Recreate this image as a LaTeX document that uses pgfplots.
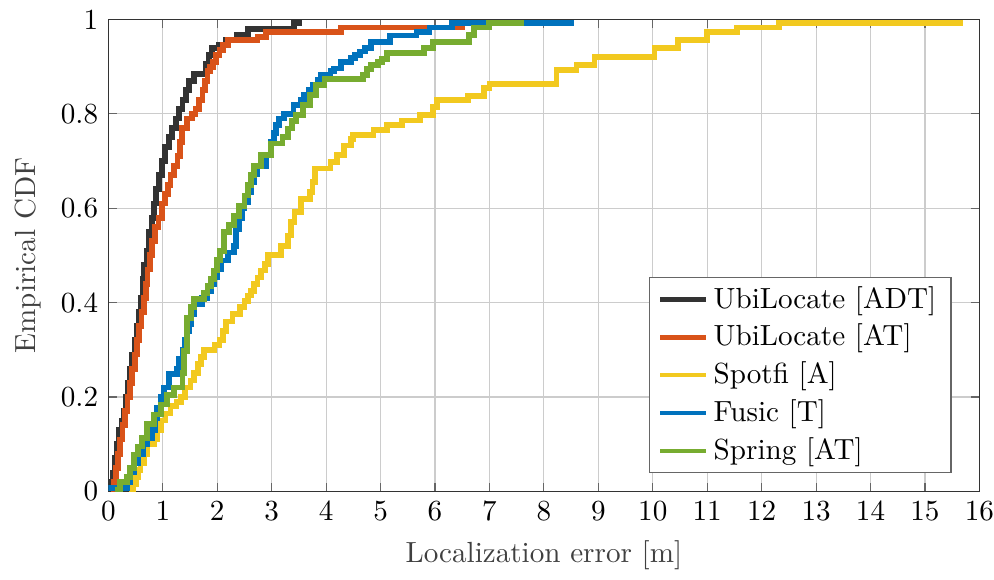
\documentclass[border=0pt]{standalone}
\usepackage{pgfplots}
\pgfplotsset{compat=1.18}
\definecolor{cblack}{rgb}{0.2,0.2,0.2}
\definecolor{corange}{rgb}{0.85,0.325,0.098}
\definecolor{cyellow}{RGB}{242,201,31}
\definecolor{cblue}{rgb}{0,0.447,0.741}
\definecolor{cgreen}{rgb}{0.466,0.674,0.188}
\begin{document}
\begin{tikzpicture}
\begin{axis}[
  scale only axis,
  width=299pt, height=162pt,
  xmin=0, xmax=16, ymin=0, ymax=1,
  xtick={0,1,...,16},
  ytick={0,0.2,0.4,0.6,0.8,1},
  yticklabels={0,0.2,0.4,0.6,0.8,1},
  xticklabel style={inner xsep=0pt},
  xmajorgrids, ymajorgrids,
  major grid style={line width=0.4pt, draw=black!20},
  tick align=inside,
  major tick length=3pt,
  tick style={black!60, line width=0.4pt},
  axis line style={black!80, line width=0.5pt},
  xlabel={Localization error [m]},
  ylabel={Empirical CDF},
  xlabel style={black!75},
  ylabel style={black!75},
  legend cell align=left,
  legend style={at={(0.968,0.038)}, anchor=south east, draw=black!60, line width=0.5pt, font=\normalsize, row sep=0pt, inner xsep=3pt, inner ysep=1pt},
  legend image code/.code={\draw[#1, line width=1.6pt] (0pt,0pt) -- (15.5pt,0pt);},
  every axis plot/.append style={const plot, line width=2pt},
]
\addplot[cblack] coordinates {
(0.00,0.00)(0.04,0.02)(0.08,0.04)(0.12,0.07)(0.16,0.10)(0.20,0.13)(0.24,0.15)(0.28,0.17)
(0.32,0.20)(0.36,0.23)(0.40,0.26)(0.44,0.29)(0.48,0.32)(0.52,0.35)(0.56,0.38)(0.60,0.41)
(0.63,0.45)(0.66,0.48)(0.70,0.51)(0.74,0.55)(0.80,0.58)(0.84,0.61)(0.88,0.64)(0.93,0.67)
(0.98,0.70)(1.04,0.73)(1.12,0.75)(1.17,0.77)(1.24,0.79)(1.30,0.81)(1.36,0.83)(1.42,0.85)
(1.48,0.87)(1.57,0.885)(1.80,0.905)(1.85,0.925)(1.90,0.94)(2.03,0.947)(2.16,0.956)
(2.37,0.967)(2.56,0.98)(3.41,0.992)(3.55,0.992)};
\addlegendentry{UbiLocate [ADT]}
\addplot[corange] coordinates {
(0.05,0.00)(0.10,0.02)(0.14,0.05)(0.18,0.08)(0.22,0.11)(0.26,0.14)(0.30,0.17)(0.35,0.20)
(0.40,0.23)(0.44,0.26)(0.49,0.29)(0.53,0.32)(0.57,0.35)(0.61,0.38)(0.65,0.41)(0.69,0.44)
(0.72,0.47)(0.76,0.50)(0.80,0.53)(0.85,0.56)(0.92,0.58)(0.99,0.61)(1.04,0.63)(1.09,0.65)
(1.14,0.67)(1.20,0.69)(1.27,0.71)(1.31,0.74)(1.35,0.77)(1.45,0.79)(1.53,0.80)(1.60,0.81)
(1.66,0.83)(1.73,0.85)(1.78,0.87)(1.82,0.89)(1.87,0.90)(1.92,0.91)(1.98,0.925)(2.04,0.935)
(2.10,0.946)(2.19,0.956)(2.74,0.963)(2.90,0.974)(4.28,0.983)(6.50,0.992)(7.26,0.992)};
\addlegendentry{UbiLocate [AT]}
\addplot[cyellow] coordinates {
(0.375,0.00)(0.45,0.015)(0.50,0.03)(0.55,0.045)(0.59,0.06)(0.65,0.08)(0.71,0.10)(0.84,0.11)
(0.90,0.13)(0.96,0.15)(1.05,0.165)(1.14,0.18)(1.25,0.19)(1.33,0.20)(1.40,0.22)(1.51,0.235)
(1.58,0.25)(1.64,0.27)(1.70,0.285)(1.76,0.30)(1.95,0.31)(2.04,0.32)(2.10,0.34)(2.16,0.36)
(2.28,0.376)(2.42,0.39)(2.50,0.404)(2.56,0.415)(2.62,0.425)(2.68,0.44)(2.74,0.453)(2.80,0.468)
(2.87,0.482)(2.93,0.50)(3.17,0.52)(3.30,0.542)(3.36,0.57)(3.42,0.592)(3.54,0.62)(3.70,0.634)
(3.75,0.655)(3.80,0.684)(4.08,0.698)(4.20,0.712)(4.33,0.733)(4.45,0.747)(4.50,0.755)(4.87,0.765)
(5.12,0.776)(5.40,0.786)(5.73,0.797)(5.96,0.815)(6.03,0.829)(6.60,0.838)(6.90,0.854)(7.00,0.864)
(8.23,0.893)(8.60,0.903)(8.93,0.921)(10.03,0.939)(10.47,0.956)(10.99,0.974)(11.55,0.983)
(12.32,0.992)(15.69,0.992)};
\addlegendentry{Spotfi [A]}
\addplot[cblue] coordinates {
(0.00,0.007)(0.34,0.02)(0.40,0.04)(0.47,0.06)(0.55,0.08)(0.64,0.10)(0.72,0.113)(0.80,0.13)
(0.86,0.155)(0.90,0.177)(0.96,0.20)(1.02,0.22)(1.11,0.248)(1.26,0.26)(1.30,0.28)(1.36,0.30)
(1.40,0.32)(1.44,0.34)(1.48,0.355)(1.52,0.375)(1.57,0.397)(1.72,0.41)(1.82,0.425)(1.88,0.44)
(1.94,0.453)(2.00,0.47)(2.07,0.489)(2.19,0.506)(2.30,0.52)(2.34,0.556)(2.40,0.58)(2.46,0.60)
(2.50,0.613)(2.56,0.635)(2.62,0.655)(2.68,0.672)(2.74,0.69)(2.90,0.712)(2.99,0.74)(3.04,0.76)
(3.08,0.776)(3.14,0.79)(3.23,0.80)(3.40,0.818)(3.54,0.83)(3.60,0.84)(3.68,0.85)(3.76,0.861)
(3.84,0.872)(3.91,0.882)(4.08,0.89)(4.15,0.896)(4.28,0.91)(4.46,0.918)(4.53,0.925)(4.62,0.932)
(4.71,0.939)(4.83,0.953)(5.17,0.966)(5.66,0.974)(5.90,0.983)(6.31,0.992)(8.55,0.992)};
\addlegendentry{Fusic [T]}
\addplot[cgreen] coordinates {
(0.13,0.004)(0.22,0.02)(0.34,0.03)(0.40,0.05)(0.47,0.078)(0.55,0.095)(0.62,0.113)(0.71,0.142)
(0.84,0.163)(0.96,0.184)(1.08,0.205)(1.20,0.22)(1.36,0.25)(1.39,0.298)(1.45,0.368)(1.52,0.39)
(1.57,0.407)(1.75,0.42)(1.82,0.436)(1.88,0.45)(1.94,0.468)(2.00,0.49)(2.05,0.51)(2.13,0.549)
(2.22,0.565)(2.31,0.584)(2.40,0.605)(2.50,0.627)(2.56,0.65)(2.62,0.67)(2.68,0.69)(2.80,0.712)
(2.99,0.737)(3.20,0.75)(3.30,0.769)(3.38,0.785)(3.45,0.797)(3.57,0.818)(3.70,0.84)(3.82,0.861)
(3.97,0.873)(4.68,0.882)(4.75,0.895)(4.83,0.903)(4.95,0.91)(5.02,0.917)(5.12,0.928)(5.80,0.939)
(5.97,0.953)(6.62,0.967)(6.71,0.983)(6.99,0.992)(7.63,0.992)};
\addlegendentry{Spring [AT]}
\end{axis}
\path ([xshift=-1.7pt]current axis.outer west);
\end{tikzpicture}
\end{document}
